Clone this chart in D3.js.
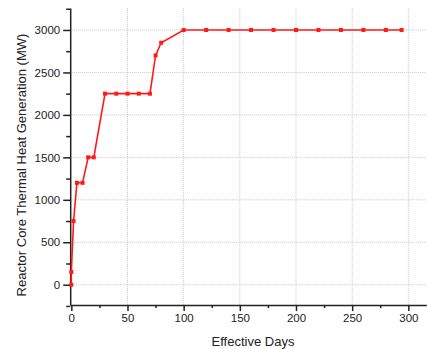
<!DOCTYPE html>
<html>
<head>
<meta charset="utf-8">
<script src="https://cdn.jsdelivr.net/npm/d3@7"></script>
<style>
  body { margin: 0; background: #fff; }
  svg { display: block; font-family: "Liberation Sans", Arial, sans-serif; }
</style>
</head>
<body>
<div class="chart"></div>
<script>
// data
var days  = [0, 0, 2, 5, 10, 15, 20, 30, 40, 50, 60, 70, 75, 80, 100, 120, 140, 160, 180, 200, 220, 240, 260, 280, 294];
var power = [0, 150, 750, 1200, 1200, 1500, 1500, 2250, 2250, 2250, 2250, 2250, 2700, 2850, 3000, 3000, 3000, 3000, 3000, 3000, 3000, 3000, 3000, 3000, 3000];
var xTicks = [0, 50, 100, 150, 200, 250, 300];
var yTicks = [0, 500, 1000, 1500, 2000, 2500, 3000];
var xMinor = [25, 75, 125, 175, 225, 275];
var yMinor = [-250, 250, 750, 1250, 1750, 2250, 2750, 3250];

var dataset = days.map(function(d, i) { return [d, power[i]]; });

var width = 428, height = 349;
var svg = d3.select("div.chart").append("svg").attr("width", width).attr("height", height);

var xScale = d3.scaleLinear().domain([-1, 316]).range([70.2, 426.3]);
var yScale = d3.scaleLinear().domain([-240, 3260]).range([305.1, 7.9]);

var x0 = xScale.range()[0], x1 = xScale.range()[1];
var y0 = yScale.range()[0], y1 = yScale.range()[1];

// grid (dotted)
svg.append("g").selectAll("line").data(yTicks).enter().append("line")
  .attr("x1", x0).attr("x2", x1)
  .attr("y1", function(d) { return yScale(d); }).attr("y2", function(d) { return yScale(d); })
  .attr("stroke", "#c8c8c8").attr("stroke-width", 1).attr("stroke-dasharray", "1,1");
svg.append("g").selectAll("line").data(xTicks.slice(1)).enter().append("line")
  .attr("y1", y0).attr("y2", y1)
  .attr("x1", function(d) { return xScale(d); }).attr("x2", function(d) { return xScale(d); })
  .attr("stroke", "#c8c8c8").attr("stroke-width", 1).attr("stroke-dasharray", "1,1");

// axes
var axisx = d3.axisBottom(xScale).tickValues(xTicks).tickFormat(d3.format("d")).tickSize(6).tickSizeOuter(0).tickPadding(3);
var axisy = d3.axisLeft(yScale).tickValues(yTicks).tickFormat(d3.format("d")).tickSize(7).tickSizeOuter(0).tickPadding(3);

var gx = svg.append("g").attr("transform", "translate(0," + y0 + ")").call(axisx);
var gy = svg.append("g").attr("transform", "translate(" + x0 + ",0)").call(axisy);

svg.append("g").attr("transform", "translate(0," + y0 + ")")
  .call(d3.axisBottom(xScale).tickValues(xMinor).tickSize(3).tickSizeOuter(0).tickFormat(""))
  .select(".domain").remove();
svg.append("g").attr("transform", "translate(" + x0 + ",0)")
  .call(d3.axisLeft(yScale).tickValues(yMinor).tickSize(4).tickSizeOuter(0).tickFormat(""))
  .select(".domain").remove();

svg.selectAll(".domain, .tick line").attr("stroke", "#222").attr("stroke-width", 1.5);
gx.selectAll("text").attr("font-size", "11.5px").attr("fill", "#222").attr("font-family", "Liberation Sans, Arial, sans-serif");
gy.selectAll("text").attr("font-size", "11.5px").attr("fill", "#222").attr("font-family", "Liberation Sans, Arial, sans-serif");

// titles
svg.append("text")
  .attr("x", 253).attr("y", 346)
  .attr("text-anchor", "middle").attr("font-size", "13px").attr("fill", "#222")
  .text("Effective Days");
svg.append("text")
  .attr("transform", "translate(26,165) rotate(-90)")
  .attr("text-anchor", "middle").attr("font-size", "13px").attr("fill", "#222")
  .text("Reactor Core Thermal Heat Generation (MW)");

// line + markers
svg.append("path")
  .datum(dataset)
  .attr("fill", "none")
  .attr("stroke", "#ff1a1a")
  .attr("stroke-width", 1.6)
  .attr("d", d3.line()
    .x(function(d) { return xScale(d[0]); })
    .y(function(d) { return yScale(d[1]); }));

svg.append("g").selectAll("rect").data(dataset).enter().append("rect")
  .attr("x", function(d) { return xScale(d[0]) - 2; })
  .attr("y", function(d) { return yScale(d[1]) - 2; })
  .attr("width", 4).attr("height", 4)
  .attr("fill", "#ff1a1a");
</script>
</body>
</html>
